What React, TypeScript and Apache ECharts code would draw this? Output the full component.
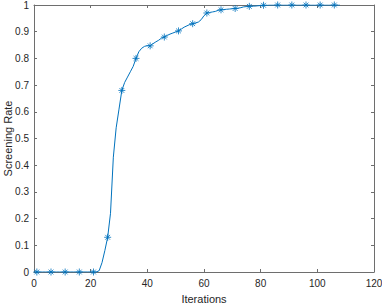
import React, { useEffect, useRef } from "react";
import * as echarts from "echarts";

// Iterations 0..108 and the screening rate
const iterations: number[] = Array.from({ length: 109 }, (_, i) => i);
const screeningRate: number[] = [
  0, 0, 0, 0, 0, 0, 0, 0, 0, 0,
  0, 0, 0, 0, 0, 0, 0, 0, 0, 0,
  0, 0, 0, 0.005, 0.035, 0.08, 0.13, 0.22, 0.43, 0.54,
  0.61, 0.68, 0.71, 0.73, 0.75, 0.77, 0.8, 0.825, 0.838, 0.845,
  0.848, 0.847, 0.855, 0.862, 0.868, 0.876, 0.88, 0.886, 0.891, 0.895,
  0.899, 0.903, 0.91, 0.917, 0.922, 0.927, 0.93, 0.933, 0.936, 0.945,
  0.96, 0.97, 0.972, 0.974, 0.976, 0.98, 0.982, 0.983, 0.984, 0.985,
  0.986, 0.987, 0.988, 0.99, 0.993, 0.994, 0.995, 0.996, 0.996, 0.997,
  0.998, 0.999, 0.999, 1, 1, 1, 1, 1, 1, 1,
  1, 1, 1, 1, 1, 1, 1, 1, 1, 1,
  1, 1, 1, 1, 1, 1, 1, 1, 1,
];
// Markers are drawn every 5 iterations starting at iteration 1
const markerIterations: number[] = [1, 6, 11, 16, 21, 26, 31, 36, 41, 46, 51, 56, 61, 66, 71, 76, 81, 86, 91, 96, 101, 106];

const xTicks = { min: 0, max: 120, interval: 20 };
const yTicks = { min: 0, max: 1, interval: 0.1 };

const BLUE = "#0072BD";
const AXIS = "#262626";
const FONT = "Liberation Sans";

export default function App() {
  const ref = useRef<HTMLDivElement>(null);
  useEffect(() => {
    if (!ref.current) return;
    const chart = echarts.init(ref.current, undefined, { renderer: "svg" });
    const lineData = iterations.map((x, i) => [x, screeningRate[i]]);
    const markerData = markerIterations.map((x) => [x, screeningRate[iterations.indexOf(x)]]);
    const axisLine = { show: true, onZero: false, lineStyle: { color: "#6e6e6e", width: 1 } };
    const tick = { show: true, inside: true, length: 3, lineStyle: { color: "#6e6e6e", width: 1 } };
    const label = { color: AXIS, fontSize: 10, fontFamily: FONT };
    chart.setOption({
      animation: false,
      backgroundColor: "#ffffff",
      grid: { left: 34, right: 8, top: 5, bottom: 32, containLabel: false, outerBoundsMode: "none" },
      xAxis: [
        {
          type: "value",
          ...xTicks,
          position: "bottom",
          name: "Iterations",
          nameLocation: "middle",
          nameGap: 21,
          nameMoveOverlap: false,
          nameTextStyle: { color: AXIS, fontSize: 11, fontFamily: FONT },
          axisLine,
          axisTick: tick,
          axisLabel: { ...label, margin: 6 },
          splitLine: { show: false },
        },
        {
          type: "value",
          ...xTicks,
          position: "top",
          axisLine,
          axisTick: tick,
          axisLabel: { show: false },
          splitLine: { show: false },
        },
      ],
      yAxis: [
        {
          type: "value",
          ...yTicks,
          position: "left",
          name: "Screening Rate",
          nameLocation: "middle",
          nameGap: 21,
          nameMoveOverlap: false,
          nameTextStyle: { color: AXIS, fontSize: 11, fontFamily: FONT },
          axisLine,
          axisTick: tick,
          axisLabel: { ...label, margin: 5 },
          splitLine: { show: false },
        },
        {
          type: "value",
          ...yTicks,
          position: "right",
          axisLine,
          axisTick: tick,
          axisLabel: { show: false },
          splitLine: { show: false },
        },
      ],
      series: [
        {
          type: "line",
          data: lineData,
          showSymbol: false,
          symbol: "none",
          lineStyle: { color: BLUE, width: 1 },
          smooth: false,
        },
        {
          type: "scatter",
          data: markerData,
          symbol: "path://M5,0 L5,10 M0,5 L10,5 M1.6,1.6 L8.4,8.4 M1.6,8.4 L8.4,1.6",
          symbolSize: 7,
          itemStyle: { color: "none", borderColor: BLUE, borderWidth: 1 },
        },
      ],
    });
    return () => chart.dispose();
  }, []);
  return (
    <div
      ref={ref}
      style={{ position: "fixed", left: 0, top: 0, width: 382, height: 304, background: "#fff" }}
    />
  );
}
